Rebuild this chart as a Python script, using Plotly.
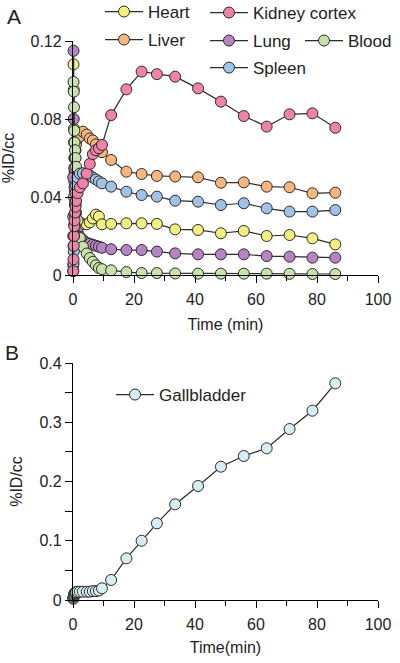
import plotly.graph_objects as go

# ---- data ----
time_min = [0.08, 0.17, 0.25, 0.33, 0.42, 0.5, 0.67, 0.83, 1.0, 1.5, 2.25, 3.25, 4.5, 5.5, 6.5, 7.5, 8.5, 9.5,
            12.5, 17.5, 22.5, 27.5, 33.5, 41, 48.5, 56, 63.5, 71, 78.5, 86]

heart = [0.02, 0.108, 0.095, 0.075, 0.06, 0.052, 0.043, 0.036, 0.032, 0.028, 0.027, 0.026, 0.026, 0.027, 0.029, 0.031, 0.030, 0.026,
         0.0262, 0.0265, 0.0265, 0.0262, 0.0234, 0.0231, 0.0214, 0.0226, 0.0200, 0.0205, 0.0188, 0.0157]
liver = [0.005, 0.015, 0.03, 0.04, 0.048, 0.054, 0.06, 0.064, 0.067, 0.070, 0.071, 0.0735, 0.072, 0.070, 0.069, 0.067, 0.065, 0.063,
         0.059, 0.053, 0.0518, 0.0508, 0.0505, 0.0501, 0.0473, 0.0475, 0.0453, 0.0450, 0.0419, 0.0422]
kidney = [0.002, 0.008, 0.015, 0.02, 0.025, 0.028, 0.032, 0.035, 0.038, 0.042, 0.045, 0.047, 0.052, 0.057, 0.062, 0.064, 0.065, 0.0667,
          0.082, 0.0952, 0.1043, 0.1030, 0.1017, 0.0957, 0.0889, 0.0815, 0.0761, 0.0824, 0.0829, 0.0755]
lung = [0.05, 0.115, 0.08, 0.068, 0.055, 0.045, 0.036, 0.03, 0.026, 0.022, 0.0196, 0.018, 0.0165, 0.016, 0.0155, 0.015, 0.0145, 0.014,
        0.0132, 0.0128, 0.0128, 0.0120, 0.0111, 0.0106, 0.0106, 0.0106, 0.0097, 0.0094, 0.0089, 0.0089]
blood = [0.03, 0.099, 0.094, 0.086, 0.074, 0.068, 0.064, 0.06, 0.0555, 0.028, 0.019, 0.0145, 0.011, 0.0087, 0.0068, 0.005, 0.0036, 0.003,
         0.0024, 0.0015, 0.001, 0.001, 0.0008, 0.0007, 0.0007, 0.0007, 0.0007, 0.0006, 0.0005, 0.0005]
spleen = [0.002, 0.006, 0.012, 0.02, 0.026, 0.031, 0.037, 0.042, 0.046, 0.05, 0.052, 0.0522, 0.052, 0.051, 0.05, 0.049, 0.048, 0.047,
          0.0453, 0.0427, 0.041, 0.0402, 0.0381, 0.0376, 0.0359, 0.0368, 0.0342, 0.0325, 0.0325, 0.0333]
gallbladder = [0.002, 0.004, 0.006, 0.008, 0.010, 0.011, 0.012, 0.013, 0.013, 0.014, 0.014, 0.014, 0.014, 0.014, 0.015, 0.015, 0.016, 0.0197,
               0.0338, 0.0703, 0.100, 0.1294, 0.1615, 0.1924, 0.2250, 0.2430, 0.2560, 0.2886, 0.3195, 0.3657]

FONT = "Liberation Sans, Arial, sans-serif"
LINE = "#2b2b2b"
W, H = 400, 663
ML, MR, MT, MB = 73, W - 378, 41, H - 600

series_a = [
    ("Heart", heart, "#f3ef7e", "legend", 100, 12),
    ("Liver", liver, "#f7b67c", "legend2", 100, 40),
    ("Lung", lung, "#b783c2", "legend4", 205, 41),
    ("Blood", blood, "#c9e2a9", "legend5", 300, 41),
    ("Spleen", spleen, "#9fc2e6", "legend6", 205, 68),
    ("Kidney cortex", kidney, "#ef82a9", "legend3", 205, 13),
]

fig = go.Figure()
legends = {}
for name, vals, color, lg, lx, ly in series_a:
    fig.add_trace(go.Scatter(
        x=time_min, y=vals, name=name, mode="lines+markers",
        line=dict(color=LINE, width=1.2),
        marker=dict(size=11, color=color, line=dict(color=LINE, width=1)),
        cliponaxis=False, legend=lg, xaxis="x", yaxis="y"))
    legends[lg] = (lx, ly)

fig.add_trace(go.Scatter(
    x=time_min, y=gallbladder, name="Gallbladder", mode="lines+markers",
    line=dict(color=LINE, width=1.2),
    marker=dict(size=11, color="#d6edf1", line=dict(color=LINE, width=1)),
    cliponaxis=False, legend="legend7", xaxis="x2", yaxis="y2"))
legends["legend7"] = (111, 395)


def px_to_paper(px, py):
    return (px - ML) / (W - ML - MR), (H - MB - py) / (H - MT - MB)


for lg, (lx, ly) in legends.items():
    px, py = px_to_paper(lx, ly)
    fig.update_layout({lg: dict(
        x=px, y=py, xref="paper", yref="paper",
        xanchor="left", yanchor="middle", bgcolor="rgba(0,0,0,0)",
        font=dict(family=FONT, size=17, color="#222"), itemwidth=38,
        borderwidth=0)})

axis_common = dict(
    showline=True, linecolor="black", linewidth=1.3, ticks="outside",
    ticklen=7, tickwidth=1.3, tickcolor="black", showgrid=False, zeroline=False,
    automargin=False,
    tickfont=dict(family=FONT, size=16, color="#222"),
)

ax, ay = px_to_paper(14, 17)
bx, by = px_to_paper(12, 352)

top_lo = (H - MB - 275) / (H - MT - MB)
bot_hi = (H - MB - 363) / (H - MT - MB)

fig.update_layout(
    width=W, height=H,
    margin=dict(l=ML, r=MR, t=MT, b=MB, autoexpand=False),
    plot_bgcolor="white", paper_bgcolor="white",
    font=dict(family=FONT, size=16, color="#222"),
    xaxis=dict(domain=[0, 1], anchor="y", range=[0, 100], dtick=20, ticklabelstandoff=3,
               minor=dict(dtick=10, ticks="outside", ticklen=5, tickcolor="black", tickwidth=1.3),
               title=dict(text="Time (min)", font=dict(size=16), standoff=11), **axis_common),
    yaxis=dict(domain=[top_lo, 1.0], anchor="x", range=[0, 0.12], dtick=0.04,
               title=dict(text="%ID/cc", font=dict(size=16), standoff=12), **axis_common),
    xaxis2=dict(domain=[0, 1], anchor="y2", range=[0, 100], dtick=20, ticklabelstandoff=3,
                minor=dict(dtick=10, ticks="outside", ticklen=5, tickcolor="black", tickwidth=1.3),
                title=dict(text="Time(min)", font=dict(size=16), standoff=9), **axis_common),
    yaxis2=dict(domain=[0, bot_hi], anchor="x2", range=[0, 0.4], dtick=0.1,
                minor=dict(dtick=0.05, ticks="outside", ticklen=7, tickcolor="black", tickwidth=1.3),
                title=dict(text="%ID/cc", font=dict(size=16), standoff=12), **axis_common),
    showlegend=True,
)
fig.add_annotation(text="A", x=ax, y=ay, xref="paper", yref="paper", showarrow=False,
                   xanchor="center", yanchor="middle",
                   font=dict(family=FONT, size=21, color="#222"))
fig.add_annotation(text="B", x=bx, y=by, xref="paper", yref="paper", showarrow=False,
                   xanchor="center", yanchor="middle",
                   font=dict(family=FONT, size=21, color="#222"))

fig.write_html("out.html", config={"displayModeBar": False},
               post_script="document.body.style.margin='0';")
